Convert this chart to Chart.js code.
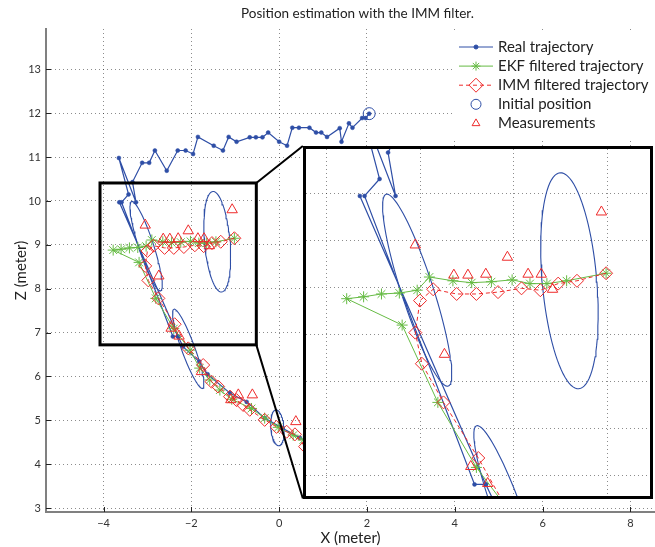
<!DOCTYPE html>
<html>
<head>
<meta charset="utf-8">
<script src="https://cdn.jsdelivr.net/npm/chart.js@4.4.1/dist/chart.umd.min.js"></script>
<style>
  html, body { margin: 0; padding: 0; background: #fff; overflow: hidden; }
  #wrap { position: relative; width: 655px; height: 547px; }
  #inset { position: absolute; border: 3px solid #000; background: #fff; box-sizing: border-box; }
  #inset canvas { display: block; }
</style>
</head>
<body>
<div id="wrap">
  <canvas id="mainChart" width="655" height="547"></canvas>
  <div id="inset"><canvas id="insetChart"></canvas></div>
</div>
<script>
// real trajectory (null = pen up)
const realX = [2.05, 1.97, 1.89, 1.67, 1.59, 1.42, 1.38, 1.09, 0.96, 0.84, 0.69, 0.45, 0.30, 0.18, 0.00, -0.25, -0.38, -0.53, -0.67, -0.97, -1.15, -1.28, -1.49, -1.85, -1.96, -2.13, -2.31, -2.56, -2.83, -2.96, -3.12, -3.34, -3.26, -3.65, -3.43, -3.59, -2.42, -2.30, -2.19, -1.82, -1.63, -1.12, -0.74, -0.33, 0.08, 0.47, 0.90, null, -3.64, -2.30];
const realZ = [11.99, 11.89, 11.89, 11.67, 11.77, 11.35, 11.66, 11.46, 11.56, 11.56, 11.67, 11.67, 11.67, 11.26, 11.35, 11.56, 11.45, 11.45, 11.45, 11.35, 11.46, 11.15, 11.26, 11.46, 11.07, 11.15, 11.15, 10.69, 11.15, 10.87, 10.87, 10.43, 9.97, 10.98, 10.15, 9.97, 6.91, 6.91, 6.68, 6.34, 6.05, 5.62, 5.42, 5.05, 4.82, 4.60, 4.40, null, 9.97, 6.91];

// EKF estimate
const ekfX = [-1.02, -1.44, -1.65, -1.83, -2.02, -2.24, -2.45, -2.65, -2.90, -3.03, -3.22, -3.41, -3.60, -3.78, -3.19, -2.81, -2.40, -2.03, -1.81, -1.58, -1.35, -1.08, -0.63, -0.33, -0.02, 0.32, 0.55, 0.95];
const ekfZ = [9.15, 9.07, 9.04, 9.04, 9.08, 9.06, 9.05, 9.07, 9.11, 8.97, 8.94, 8.93, 8.90, 8.88, 8.60, 7.78, 7.09, 6.60, 6.19, 5.92, 5.69, 5.48, 5.27, 5.05, 4.84, 4.66, 4.55, 4.35];

// IMM estimate
const immX = [-1.02, -1.33, -1.53, -1.72, -1.92, -2.17, -2.40, -2.61, -2.86, -3.00, -3.05, -2.98, -2.75, -2.38, -2.07, -1.73, -1.54, -1.39, -1.12, -0.97, -0.82, -0.67, -0.33, -0.06, 0.17, 0.36, 0.59, 0.95];
const immZ = [9.15, 9.07, 9.04, 8.97, 8.99, 8.95, 8.93, 8.93, 8.98, 8.86, 8.52, 8.19, 7.78, 7.19, 6.64, 6.26, 5.88, 5.77, 5.54, 5.46, 5.35, 5.24, 5.01, 4.85, 4.74, 4.68, 4.40, 4.25];

// measurements
const measX = [-3.05, -2.07, -1.07, -2.74, -2.46, -2.28, -2.64, -2.49, -2.30, -1.85, -1.71, -1.59, -1.77, -1.10, -0.93, -0.61, 0.38];
const measZ = [9.45, 9.32, 9.80, 8.29, 7.10, 6.92, 9.13, 9.13, 9.14, 9.14, 9.14, 8.98, 6.11, 5.47, 5.58, 5.58, 4.97];

const initX = [2.05];
const initZ = [11.99];

// covariance ellipses: centre, semi axes, angle of major axis (deg)
const ellCx = [-3.03, -1.41, -2.07, -0.04];
const ellCz = [8.97, 9.07, 6.63, 4.83];
const ellA = [1.07, 1.15, 0.96, 0.41];
const ellB = [0.17, 0.29, 0.15, 0.15];
const ellAng = [-72, 95, 110, 95];

const xTicks = [-4, -2, 0, 2, 4, 6, 8];
const zTicks = [3, 4, 5, 6, 7, 8, 9, 10, 11, 12, 13];
const xRange = [-5.31, 8.56];
const zRange = [2.91, 13.92];

// zoomed region and where the zoom is shown
const zoomX = [-4.08, -0.52];
const zoomZ = [6.72, 10.41];
const insetX = [0.54, 8.524];
const insetZ = [3.217, 11.255];
const viewX = [-4.213, -0.553];
const viewZ = [6.787, 10.468];
const viewXTicks = [-4, -3, -2, -1];
const viewZTicks = [7, 7.5, 8, 8.5, 9, 9.5, 10];

const legendLabels = ['Real trajectory', 'EKF filtered trajectory', 'IMM filtered trajectory', 'Initial position', 'Measurements'];

const blue = '#2e4ea6', green = '#66bb44', red = '#ee2a2a';
const clear = 'rgba(0,0,0,0)';
const fontFamily = 'Lato, "Open Sans", sans-serif';
const gridColor = 'rgba(0,0,0,0.45)';

function pts(xs, zs) {
    return xs.map((x, i) => ({ x: x, y: zs[i] }));
}

function ellipsePts(i) {
    const out = [];
    const th = ellAng[i] * Math.PI / 180;
    for (let k = 0; k <= 90; k++) {
        const t = 2 * Math.PI * k / 90;
        const u = ellA[i] * Math.cos(t), v = ellB[i] * Math.sin(t);
        out.push({ x: ellCx[i] + u * Math.cos(th) - v * Math.sin(th), y: ellCz[i] + u * Math.sin(th) + v * Math.cos(th) });
    }
    return out;
}

function makeDatasets() {
    const sets = [
        { label: legendLabels[4], data: pts(measX, measZ), showLine: false, pointStyle: 'triangle', pointRadius: 6, pointBorderColor: red, pointBackgroundColor: clear, pointBorderWidth: 1, borderColor: red },
        { label: legendLabels[2], data: pts(immX, immZ), showLine: true, borderColor: red, borderWidth: 1, borderDash: [4, 3], pointStyle: 'rectRot', pointRadius: 6.5, pointBorderColor: red, pointBackgroundColor: clear, pointBorderWidth: 1 },
        { label: legendLabels[1], data: pts(ekfX, ekfZ), showLine: true, borderColor: green, borderWidth: 1, pointStyle: 'star', pointRadius: 5.5, pointBorderColor: green, pointBackgroundColor: clear, pointBorderWidth: 1 },
        { label: legendLabels[0], data: pts(realX, realZ), showLine: true, spanGaps: false, borderColor: blue, borderWidth: 1.2, pointStyle: 'circle', pointRadius: 2, pointBackgroundColor: blue, pointBorderColor: blue, pointBorderWidth: 0.5 },
        { label: legendLabels[3], data: pts(initX, initZ), showLine: false, pointStyle: 'circle', pointRadius: 6, pointBorderColor: blue, pointBackgroundColor: clear, pointBorderWidth: 1 }
    ];
    ellCx.forEach((c, i) => {
        sets.push({ label: 'cov' + i, data: ellipsePts(i), showLine: true, borderColor: blue, borderWidth: 1.1, pointRadius: 0, fill: false });
    });
    return sets;
}

const legendMarks = [
    { color: blue, line: true, dash: [], style: 'circle', r: 2, fill: blue },
    { color: green, line: true, dash: [], style: 'star', r: 4.5, fill: clear },
    { color: red, line: true, dash: [4, 3], style: 'rectRot', r: 7, fill: clear },
    { color: blue, line: false, style: 'circle', r: 5, fill: clear },
    { color: red, line: false, style: 'triangle', r: 4.5, fill: clear }
];

const decorPlugin = {
    id: 'decor',
    afterDraw(chart) {
        const ctx = chart.ctx;
        const area = chart.chartArea;
        const sx = chart.scales.x, sy = chart.scales.y;
        ctx.save();

        // inward tick marks
        ctx.strokeStyle = '#222';
        ctx.lineWidth = 1;
        ctx.beginPath();
        zTicks.forEach(v => {
            const y = Math.round(sy.getPixelForValue(v)) + 0.5;
            ctx.moveTo(area.left, y);
            ctx.lineTo(area.left + 5, y);
        });
        xTicks.forEach(v => {
            const x = Math.round(sx.getPixelForValue(v)) + 0.5;
            ctx.moveTo(x, area.bottom);
            ctx.lineTo(x, area.bottom - 5);
        });
        ctx.stroke();

        // zoom box and connectors
        const zl = sx.getPixelForValue(zoomX[0]), zr = sx.getPixelForValue(zoomX[1]);
        const zt = sy.getPixelForValue(zoomZ[1]), zb = sy.getPixelForValue(zoomZ[0]);
        const il = sx.getPixelForValue(insetX[0]);
        const it = sy.getPixelForValue(insetZ[1]), ib = sy.getPixelForValue(insetZ[0]);
        ctx.strokeStyle = '#000';
        ctx.lineWidth = 2;
        ctx.beginPath();
        ctx.moveTo(zr, zt); ctx.lineTo(il, it);
        ctx.moveTo(zr, zb); ctx.lineTo(il, ib);
        ctx.stroke();
        ctx.lineWidth = 3;
        ctx.strokeRect(zl, zt, zr - zl, zb - zt);

        // legend
        ctx.fillStyle = '#fff';
        ctx.fillRect(area.right - 201, 32, 201, 106);
        const lx = area.right - 196;
        legendLabels.forEach((label, i) => {
            const m = legendMarks[i];
            const y = 47 + i * 19.1;
            if (m.line) {
                ctx.strokeStyle = m.color;
                ctx.lineWidth = 1;
                ctx.setLineDash(m.dash);
                ctx.beginPath();
                ctx.moveTo(lx, y); ctx.lineTo(lx + 34, y);
                ctx.stroke();
                ctx.setLineDash([]);
            }
            ctx.strokeStyle = m.color;
            ctx.fillStyle = m.fill;
            ctx.lineWidth = 1;
            Chart.helpers.drawPoint(ctx, { pointStyle: m.style, radius: m.r, rotation: 0, borderWidth: 1 }, lx + 17, y);
            ctx.fillStyle = '#222';
            ctx.font = '15px ' + fontFamily;
            ctx.textAlign = 'left';
            ctx.textBaseline = 'middle';
            ctx.fillText(label, lx + 39, y);
        });

        // title
        ctx.fillStyle = '#222';
        ctx.font = '13.5px ' + fontFamily;
        ctx.textAlign = 'center';
        ctx.textBaseline = 'middle';
        ctx.fillText('Position estimation with the IMM filter.', (area.left + area.right) / 2 + 7, 14);
        ctx.restore();
    }
};

function fmt(v) {
    return v < 0 ? '\u2212' + Math.abs(v) : String(v);
}

const mainChart = new Chart(document.getElementById('mainChart'), {
    type: 'scatter',
    data: { datasets: makeDatasets() },
    options: {
        responsive: false,
        animation: false,
        events: [],
        layout: { padding: { top: 29, left: 0, right: 0, bottom: 0 }, autoPadding: false },
        plugins: { legend: { display: false }, tooltip: { enabled: false }, title: { display: false } },
        scales: {
            x: {
                type: 'linear', min: xRange[0], max: xRange[1],
                afterBuildTicks: ax => { ax.ticks = xTicks.map(v => ({ value: v })); },
                afterFit: ax => { ax.height = 35; },
                grid: { color: gridColor, lineWidth: 1, drawTicks: false },
                border: { display: true, color: '#808080', width: 2, dash: [1, 3] },
                ticks: { color: '#333', padding: 5, font: { family: fontFamily, size: 11 }, callback: v => fmt(v), maxRotation: 0 },
                title: { display: true, text: 'X (meter)', color: '#222', font: { family: fontFamily, size: 15 }, padding: { top: 0, bottom: 0 } }
            },
            y: {
                type: 'linear', min: zRange[0], max: zRange[1],
                afterBuildTicks: ax => { ax.ticks = zTicks.map(v => ({ value: v })); },
                afterFit: ax => { ax.width = 46; },
                grid: { color: gridColor, lineWidth: 1, drawTicks: false },
                border: { display: true, color: '#808080', width: 2, dash: [1, 3] },
                ticks: { color: '#333', padding: 5, font: { family: fontFamily, size: 11 }, callback: v => fmt(v) },
                title: { display: true, text: 'Z (meter)', color: '#222', font: { family: fontFamily, size: 15 }, padding: { top: 12, bottom: 0 } }
            }
        }
    },
    plugins: [decorPlugin]
});

// place the zoomed view where the main axes say it goes
const sx = mainChart.scales.x, sy = mainChart.scales.y;
const boxL = Math.round(sx.getPixelForValue(insetX[0]));
const boxR = Math.round(sx.getPixelForValue(insetX[1]));
const boxT = Math.round(sy.getPixelForValue(insetZ[1]));
const boxB = Math.round(sy.getPixelForValue(insetZ[0]));
const insetDiv = document.getElementById('inset');
insetDiv.style.left = boxL + 'px';
insetDiv.style.top = boxT + 'px';
insetDiv.style.width = (boxR - boxL) + 'px';
insetDiv.style.height = (boxB - boxT) + 'px';
const insetCanvas = document.getElementById('insetChart');
insetCanvas.width = boxR - boxL - 6;
insetCanvas.height = boxB - boxT - 6;

const insetChart = new Chart(insetCanvas, {
    type: 'scatter',
    data: { datasets: makeDatasets() },
    options: {
        responsive: false,
        animation: false,
        events: [],
        layout: { padding: 0, autoPadding: false },
        plugins: { legend: { display: false }, tooltip: { enabled: false } },
        scales: {
            x: {
                type: 'linear', min: viewX[0], max: viewX[1],
                afterBuildTicks: ax => { ax.ticks = viewXTicks.map(v => ({ value: v })); },
                afterFit: ax => { ax.height = 0; },
                grid: { color: gridColor, lineWidth: 1, drawTicks: false },
                border: { display: false, dash: [1, 3] },
                ticks: { display: false }
            },
            y: {
                type: 'linear', min: viewZ[0], max: viewZ[1],
                afterBuildTicks: ax => { ax.ticks = viewZTicks.map(v => ({ value: v })); },
                afterFit: ax => { ax.width = 0; },
                grid: { color: gridColor, lineWidth: 1, drawTicks: false },
                border: { display: false, dash: [1, 3] },
                ticks: { display: false }
            }
        }
    }
});
</script>
</body>
</html>
